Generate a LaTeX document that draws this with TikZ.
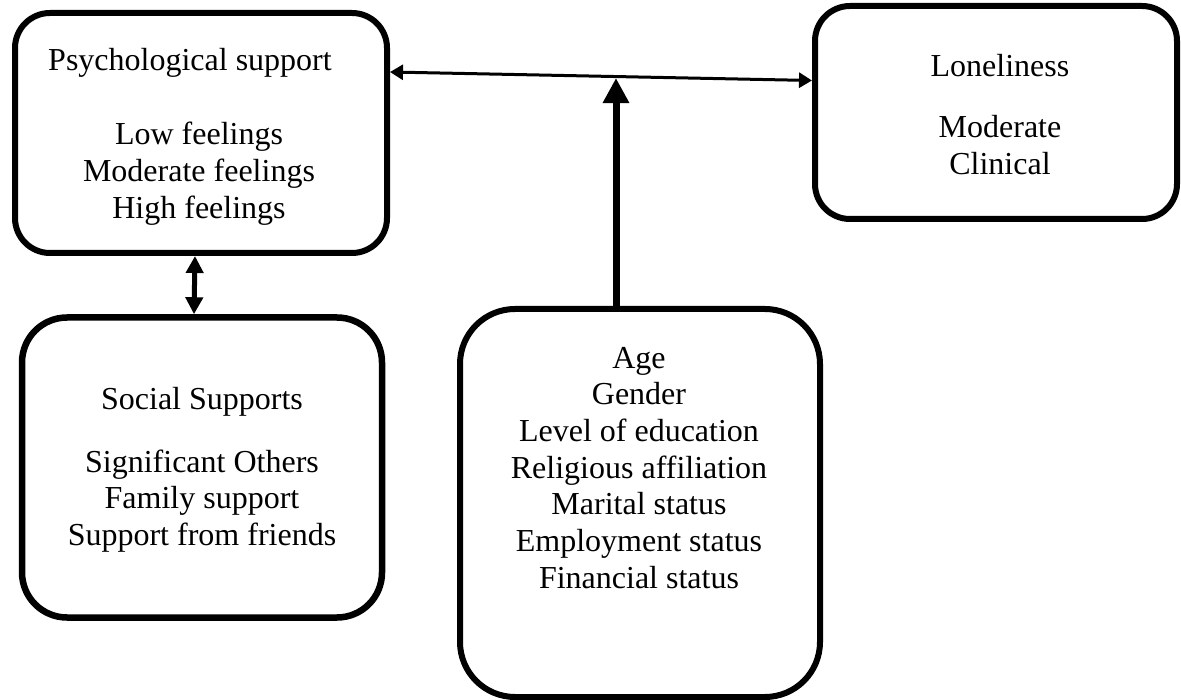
\documentclass[tikz,border=0pt]{standalone}
\usepackage{fontspec}
\setmainfont{Liberation Serif}
\usetikzlibrary{arrows.meta,calc}

\tikzset{
  box/.style={draw, line width=6pt, rectangle, inner sep=0pt},
  % multi-line labels are placed by the baseline of their last line
  label/.style={inner sep=0pt, anchor=base, align=center,
    font=\fontsize{32}{36.7}\selectfont},
  link/.style={line width=3pt, {Triangle[length=13pt,width=15pt]}-{Triangle[length=13pt,width=15pt]}},
  effect/.style={line width=7pt, -{Triangle[length=25pt,width=25pt]}},
  pair/.style={line width=5pt, {Triangle[length=17pt,width=17pt]}-{Triangle[length=17pt,width=17pt]}},
}

\begin{document}
\begin{tikzpicture}[x=1pt, y=-1pt]
  \path[use as bounding box] (0,0) rectangle (1181,700);

  % boxes
  \node[box, rounded corners=35pt, minimum width=372pt, minimum height=240pt] (psych) at (201,133) {};
  \node[box, rounded corners=35pt, minimum width=362pt, minimum height=213pt] (lonely) at (996,112.5) {};
  \node[box, line width=6.5pt, rounded corners=45pt, minimum width=360pt, minimum height=300pt] (social) at (202,467.5) {};
  \node[box, rounded corners=55pt, minimum width=360pt, minimum height=388pt] (demo) at (640,503) {};

  % texts
  \node[label] (psychT) at (190,71) {Psychological support};
  \node[label] (psychL) at (199,218.4) {Low feelings\\Moderate feelings\\High feelings};
  \node[label] (lonelyT) at (1000,77) {Loneliness};
  \node[label] (lonelyL) at (1000,174.7) {Moderate\\Clinical};
  \node[label] (socialT) at (202,410) {Social Supports};
  \node[label] (socialL) at (202,545.4) {Significant Others\\Family support\\Support from friends};
  \node[label] (demoL) at (639,588.2) {Age\\Gender\\Level of education\\Religious affiliation\\Marital status\\Employment status\\Financial status};

  % connectors
  \coordinate (hl) at ([yshift=61pt]psych.east);
  \coordinate (hr) at ([yshift=32pt]lonely.west);
  \draw[link] (hl) -- (hr);
  \coordinate (meet) at ($(hl)!0.537!(hr) + (0,1.5)$);
  \coordinate (base) at ([xshift=-24pt]demo.north);
  \draw[effect] (base) -- (base |- meet);
  \draw[pair] ([xshift=-6pt]psych.south) -- ([xshift=-8pt]social.north);
\end{tikzpicture}
\end{document}
